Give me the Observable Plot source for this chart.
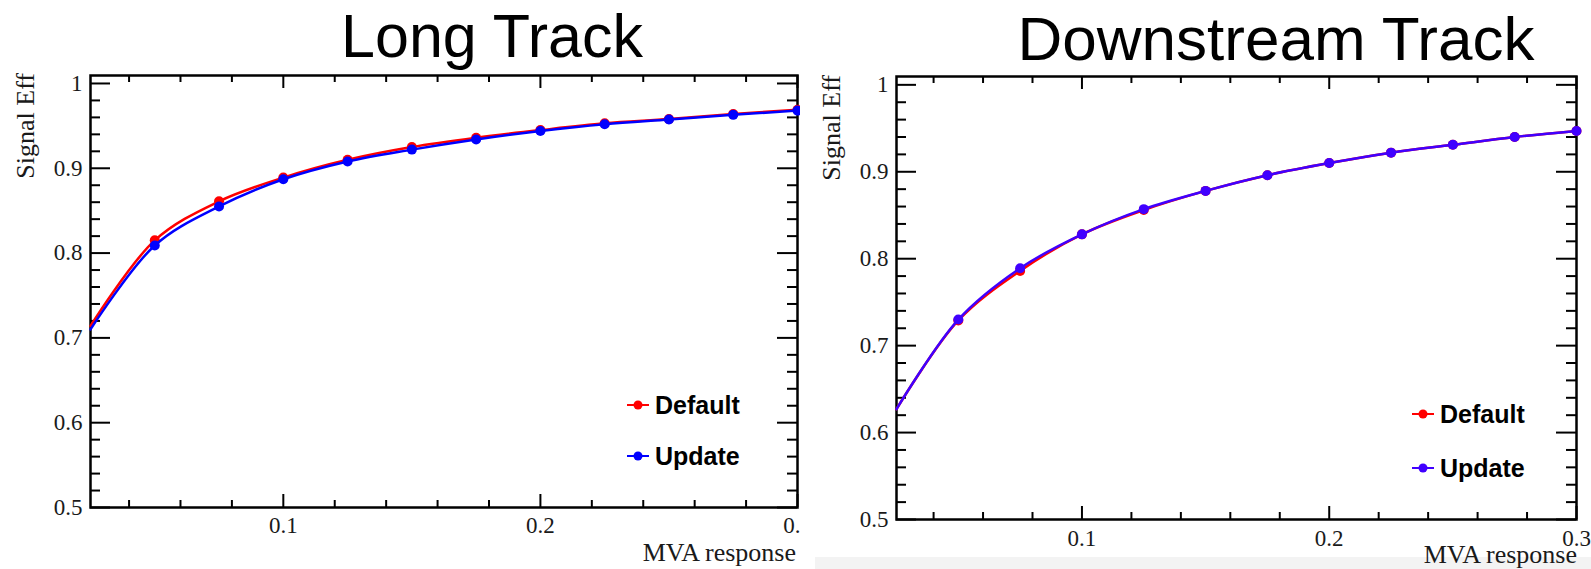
<!DOCTYPE html>
<html>
<head>
<meta charset="utf-8">
<script src="https://cdn.jsdelivr.net/npm/d3@7"></script>
<script src="https://cdn.jsdelivr.net/npm/@observablehq/plot@0.6"></script>
<style>
  html, body { margin: 0; padding: 0; background: #fff; }
  #root { position: relative; width: 1591px; height: 569px; overflow: hidden; background: #fff; }
  .abs { position: absolute; }
</style>
</head>
<body>
<div id="root"></div>
<script>
// ---- data ----
const mvaCut = [0.025, 0.05, 0.075, 0.1, 0.125, 0.15, 0.175, 0.2, 0.225, 0.25, 0.275, 0.3];
const longDefault = [0.714, 0.815, 0.861, 0.889, 0.910, 0.925, 0.936, 0.945, 0.953, 0.958, 0.964, 0.969];
const longUpdate  = [0.710, 0.809, 0.855, 0.887, 0.908, 0.922, 0.934, 0.944, 0.952, 0.9575, 0.963, 0.968];
const downDefault = [0.627, 0.729, 0.786, 0.828, 0.856, 0.878, 0.896, 0.910, 0.922, 0.931, 0.940, 0.947];
const downUpdate  = [0.627, 0.730, 0.789, 0.828, 0.857, 0.878, 0.896, 0.910, 0.922, 0.931, 0.940, 0.947];
const seriesNames = ["Default", "Update"];
const panelTitles = ["Long Track", "Downstream Track"];
const xLabel = "MVA response";
const yLabel = "Signal Eff";
const xMajorTicks = [0.1, 0.2, 0.3];
const xMinorTicks = [0.04, 0.06, 0.08, 0.12, 0.14, 0.16, 0.18, 0.22, 0.24, 0.26, 0.28];
const yMajorTicks = [0.5, 0.6, 0.7, 0.8, 0.9, 1.0];
const yMinorTicks = [0.52, 0.54, 0.56, 0.58, 0.62, 0.64, 0.66, 0.68, 0.72, 0.74, 0.76, 0.78,
                     0.82, 0.84, 0.86, 0.88, 0.92, 0.94, 0.96, 0.98];
const xDomain = [0.025, 0.3];

const root = document.getElementById("root");

function rows(vals) { return mvaCut.map((x, i) => ({x, y: vals[i]})); }

function panel(cfg) {
  const {width, height, ml, mr, mt, mb, yMax, def, upd, updColor, xPad} = cfg;
  const pw = width - ml - mr, ph = height - mt - mb;
  const dRows = rows(def), uRows = rows(upd);
  const tickStyle = {stroke: "black", strokeWidth: 2};
  return Plot.plot({
    width, height,
    marginLeft: ml, marginRight: mr, marginTop: mt, marginBottom: mb,
    x: {domain: xDomain},
    y: {domain: [0.5, yMax]},
    style: {fontFamily: "'Liberation Serif', 'Times New Roman', serif", fontSize: "23px", color: "#1a1a1a", background: "transparent", overflow: "hidden"},
    marks: [
      Plot.axisY({ticks: yMajorTicks, tickSize: 0, tickPadding: 8, tickFormat: d => String(d), label: null, fontSize: 23}),
      Plot.axisX({ticks: xMajorTicks, tickSize: 0, tickPadding: xPad, tickFormat: d => String(d), label: null, fontSize: 23}),
      Plot.frame({stroke: "black", strokeWidth: 2.5}),
      // inward ticks on all four sides (ROOT style)
      Plot.tickY(yMajorTicks, {y: d => d, insetRight: pw - 20, ...tickStyle}),
      Plot.tickY(yMinorTicks, {y: d => d, insetRight: pw - 10, ...tickStyle}),
      Plot.tickY(yMajorTicks, {y: d => d, insetLeft: pw - 20, ...tickStyle}),
      Plot.tickY(yMinorTicks, {y: d => d, insetLeft: pw - 10, ...tickStyle}),
      Plot.tickX(xMajorTicks, {x: d => d, insetTop: ph - 13, ...tickStyle}),
      Plot.tickX(xMinorTicks, {x: d => d, insetTop: ph - 7, ...tickStyle}),
      Plot.tickX(xMajorTicks, {x: d => d, insetBottom: ph - 13, ...tickStyle}),
      Plot.tickX(xMinorTicks, {x: d => d, insetBottom: ph - 7, ...tickStyle}),
      // data
      Plot.line(dRows, {x: "x", y: "y", stroke: "#ff0000", strokeWidth: 2.5, curve: "catmull-rom"}),
      Plot.dot(dRows.filter(d => d.x >= 0.05), {x: "x", y: "y", r: 5, fill: "#ff0000"}),
      Plot.line(uRows, {x: "x", y: "y", stroke: updColor, strokeWidth: 2.5, curve: "catmull-rom"}),
      Plot.dot(uRows.filter(d => d.x >= 0.05), {x: "x", y: "y", r: 5, fill: updColor})
    ]
  });
}

// light grey strip at the bottom of the right image
const strip = document.createElement("div");
strip.className = "abs";
Object.assign(strip.style, {left: "815px", top: "557px", width: "776px", height: "12px", background: "#f3f3f3"});
root.appendChild(strip);

const left = panel({width: 800, height: 569, ml: 90, mr: 3, mt: 75, mb: 62, yMax: 1.0094,
  def: longDefault, upd: longUpdate, updColor: "#0000ff", xPad: 9});
left.classList.add("abs"); left.style.left = "0px"; left.style.top = "0px";
root.appendChild(left);

const right = panel({width: 791, height: 569, ml: 96, mr: 15, mt: 76, mb: 50, yMax: 1.0096,
  def: downDefault, upd: downUpdate, updColor: "#4000ff", xPad: 10});
right.classList.add("abs"); right.style.left = "800px"; right.style.top = "0px";
root.appendChild(right);

// overlay: titles, axis titles, legends
const NS = "http://www.w3.org/2000/svg";
const ov = document.createElementNS(NS, "svg");
ov.setAttribute("width", 1591); ov.setAttribute("height", 569);
ov.setAttribute("class", "abs");
ov.style.left = "0px"; ov.style.top = "0px"; ov.style.pointerEvents = "none";
root.appendChild(ov);

function txt(s, attrs) {
  const t = document.createElementNS(NS, "text");
  for (const k in attrs) t.setAttribute(k, attrs[k]);
  t.textContent = s;
  ov.appendChild(t);
  return t;
}
const sans = "'Liberation Sans', Arial, Helvetica, sans-serif";
const serif = "'Liberation Serif', 'Times New Roman', serif";

txt(panelTitles[0], {x: 492, y: 57, "text-anchor": "middle", "font-family": sans, "font-size": 61, fill: "#000"});
txt(panelTitles[1], {x: 1276, y: 60, "text-anchor": "middle", "font-family": sans, "font-size": 62, fill: "#000"});

txt(xLabel, {x: 796, y: 561, "text-anchor": "end", "font-family": serif, "font-size": 26, fill: "#1a1a1a"});
txt(xLabel, {x: 1577, y: 563, "text-anchor": "end", "font-family": serif, "font-size": 26, fill: "#1a1a1a"});
txt(yLabel, {transform: "translate(34,73) rotate(-90)", "text-anchor": "end", "font-family": serif, "font-size": 26, fill: "#1a1a1a"});
txt(yLabel, {transform: "translate(840,75) rotate(-90)", "text-anchor": "end", "font-family": serif, "font-size": 26, fill: "#1a1a1a"});

function legendItem(x0, yc, color, label) {
  const l = document.createElementNS(NS, "line");
  l.setAttribute("x1", x0); l.setAttribute("x2", x0 + 22);
  l.setAttribute("y1", yc); l.setAttribute("y2", yc);
  l.setAttribute("stroke", color); l.setAttribute("stroke-width", 2);
  ov.appendChild(l);
  const c = document.createElementNS(NS, "circle");
  c.setAttribute("cx", x0 + 11); c.setAttribute("cy", yc); c.setAttribute("r", 4.5);
  c.setAttribute("fill", color);
  ov.appendChild(c);
  txt(label, {x: x0 + 28, y: yc + 9, "font-family": sans, "font-weight": "bold", "font-size": 25, fill: "#000"});
}
legendItem(627, 405, "#ff0000", seriesNames[0]);
legendItem(627, 456, "#0000ff", seriesNames[1]);
legendItem(1412, 414, "#ff0000", seriesNames[0]);
legendItem(1412, 468, "#4000ff", seriesNames[1]);
</script>
</body>
</html>
